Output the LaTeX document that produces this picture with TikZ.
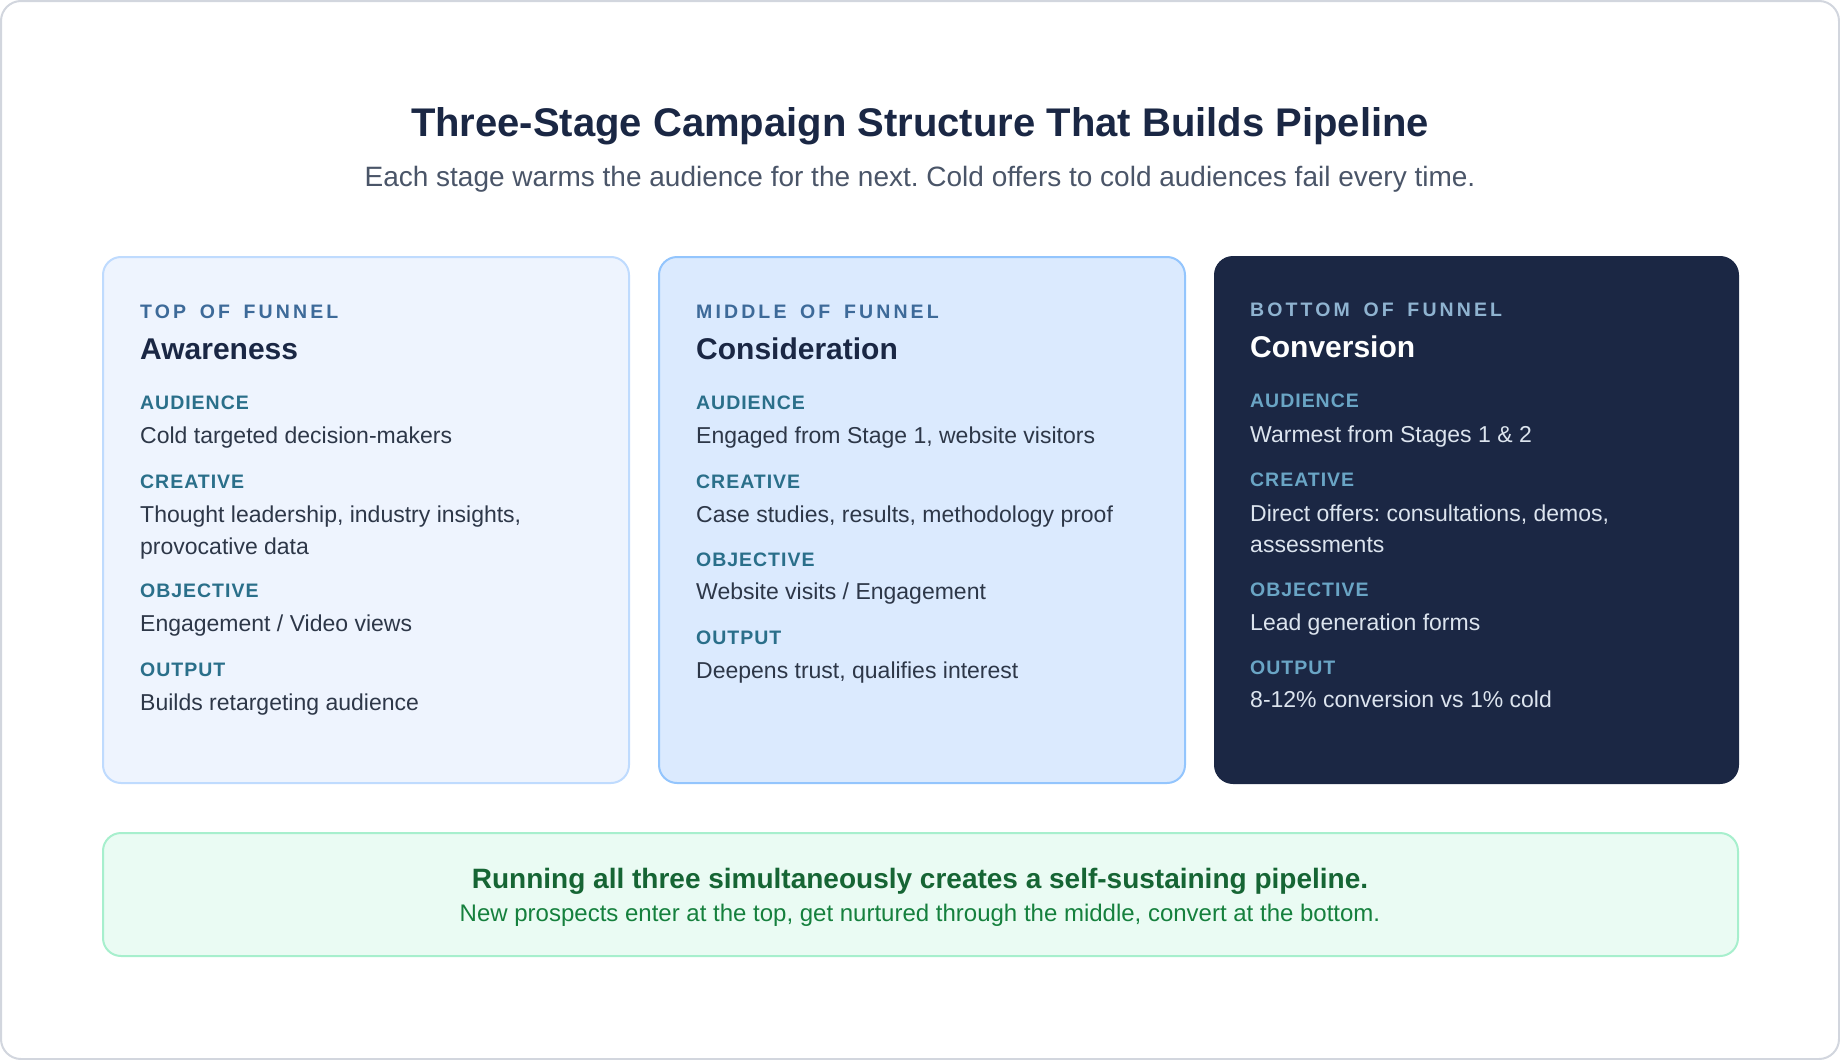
\documentclass[tikz,border=0pt]{standalone}
\usepackage{fontspec}
\setmainfont{Liberation Sans}
\newfontfamily\trackwide[LetterSpace=16, WordSpace=1.6]{Liberation Sans}
\newfontfamily\tracknarrow[LetterSpace=5]{Liberation Sans}
\usepackage{tikz}
\usepackage{xcolor}
\definecolor{titlenavy}{RGB}{26,39,68}
\definecolor{subgray}{RGB}{74,85,104}
\definecolor{framegray}{RGB}{210,214,222}
\definecolor{topfill}{RGB}{238,244,254}
\definecolor{topline}{RGB}{191,219,254}
\definecolor{midfill}{RGB}{219,234,254}
\definecolor{midline}{RGB}{147,197,253}
\definecolor{botfill}{RGB}{27,39,68}
\definecolor{stageblue}{RGB}{61,106,153}
\definecolor{fieldteal}{RGB}{42,111,138}
\definecolor{bodygray}{RGB}{45,55,72}
\definecolor{darkstage}{RGB}{143,179,208}
\definecolor{darkfield}{RGB}{106,165,197}
\definecolor{darkbody}{RGB}{220,228,238}
\definecolor{mintfill}{RGB}{234,251,243}
\definecolor{mintline}{RGB}{167,239,205}
\definecolor{pinegreen}{RGB}{22,101,52}
\definecolor{leafgreen}{RGB}{21,128,61}
\frenchspacing

\begin{document}
\begin{tikzpicture}[x=1pt, y=-1pt,
  stagelbl/.style={anchor=base west, inner sep=0, text=stageblue, font=\trackwide\bfseries\fontsize{19.5}{23}\selectfont},
  headline/.style={anchor=base west, inner sep=0, text=titlenavy, font=\bfseries\fontsize{30}{36}\selectfont},
  fieldlbl/.style={anchor=base west, inner sep=0, text=fieldteal, font=\tracknarrow\bfseries\fontsize{19.5}{23}\selectfont},
  bodytxt/.style={anchor=base west, inner sep=0, text=bodygray, font=\fontsize{23}{28}\selectfont},
  cardbox/.style={line width=2pt, rounded corners=18pt}]
\useasboundingbox (0,0) rectangle (1840,1060);
\draw[framegray, line width=2pt, rounded corners=20pt] (1,1) rectangle (1839,1059);

% heading
\node[anchor=base, inner sep=0, text=titlenavy, font=\bfseries\fontsize{40}{48}\selectfont] (title) at (920,136) {Three-Stage Campaign Structure That Builds Pipeline};
\node[anchor=base, inner sep=0, text=subgray, font=\fontsize{28}{34}\selectfont] (subtitle) at (920,186) {Each stage warms the audience for the next. Cold offers to cold audiences fail every time.};

% top of funnel
\draw[cardbox, fill=topfill, draw=topline] (103,257) rectangle (629,783);
\node[stagelbl] (topstage) at (140,318) {TOP OF FUNNEL};
\node[headline] (tophead) at (140,359) {Awareness};
\node[fieldlbl] (topaud) at (140,409) {AUDIENCE};
\node[bodytxt] (topaudtxt) at (140,443) {Cold targeted decision-makers};
\node[fieldlbl] (topcre) at (140,488) {CREATIVE};
\node[bodytxt] (topcretxt) at (140,522) {Thought leadership, industry insights,};
\node[bodytxt] (topcretxtb) at (140,554) {provocative data};
\node[fieldlbl] (topobj) at (140,597) {OBJECTIVE};
\node[bodytxt] (topobjtxt) at (140,631) {Engagement / Video views};
\node[fieldlbl] (topout) at (140,676) {OUTPUT};
\node[bodytxt] (topouttxt) at (140,710) {Builds retargeting audience};

% middle of funnel
\draw[cardbox, fill=midfill, draw=midline] (659,257) rectangle (1185,783);
\node[stagelbl] (midstage) at (696,318) {MIDDLE OF FUNNEL};
\node[headline] (midhead) at (696,359) {Consideration};
\node[fieldlbl] (midaud) at (696,409) {AUDIENCE};
\node[bodytxt] (midaudtxt) at (696,443) {Engaged from Stage 1, website visitors};
\node[fieldlbl] (midcre) at (696,488) {CREATIVE};
\node[bodytxt] (midcretxt) at (696,522) {Case studies, results, methodology proof};
\node[fieldlbl] (midobj) at (696,566) {OBJECTIVE};
\node[bodytxt] (midobjtxt) at (696,599) {Website visits / Engagement};
\node[fieldlbl] (midout) at (696,644) {OUTPUT};
\node[bodytxt] (midouttxt) at (696,678) {Deepens trust, qualifies interest};

% bottom of funnel
\draw[cardbox, fill=botfill, draw=botfill] (1215,257) rectangle (1738,783);
\node[stagelbl, text=darkstage] (botstage) at (1250,316) {BOTTOM OF FUNNEL};
\node[headline, text=white] (bothead) at (1250,357) {Conversion};
\node[fieldlbl, text=darkfield] (botaud) at (1250,407) {AUDIENCE};
\node[bodytxt, text=darkbody] (botaudtxt) at (1250,442) {Warmest from Stages 1 \& 2};
\node[fieldlbl, text=darkfield] (botcre) at (1250,486) {CREATIVE};
\node[bodytxt, text=darkbody] (botcretxt) at (1250,521) {Direct offers: consultations, demos,};
\node[bodytxt, text=darkbody] (botcretxtb) at (1250,552) {assessments};
\node[fieldlbl, text=darkfield] (botobj) at (1250,596) {OBJECTIVE};
\node[bodytxt, text=darkbody] (botobjtxt) at (1250,630) {Lead generation forms};
\node[fieldlbl, text=darkfield] (botout) at (1250,674) {OUTPUT};
\node[bodytxt, text=darkbody] (botouttxt) at (1250,707) {8-12\% conversion vs 1\% cold};

% summary band
\draw[cardbox, fill=mintfill, draw=mintline] (103,833) rectangle (1738,956);
\node[anchor=base, inner sep=0, text=pinegreen, font=\bfseries\fontsize{28}{33}\selectfont] (summary) at (920,888) {Running all three simultaneously creates a self-sustaining pipeline.};
\node[anchor=base, inner sep=0, text=leafgreen, font=\fontsize{24}{29}\selectfont] (summarysub) at (920,921) {New prospects enter at the top, get nurtured through the middle, convert at the bottom.};
\end{tikzpicture}
\end{document}
